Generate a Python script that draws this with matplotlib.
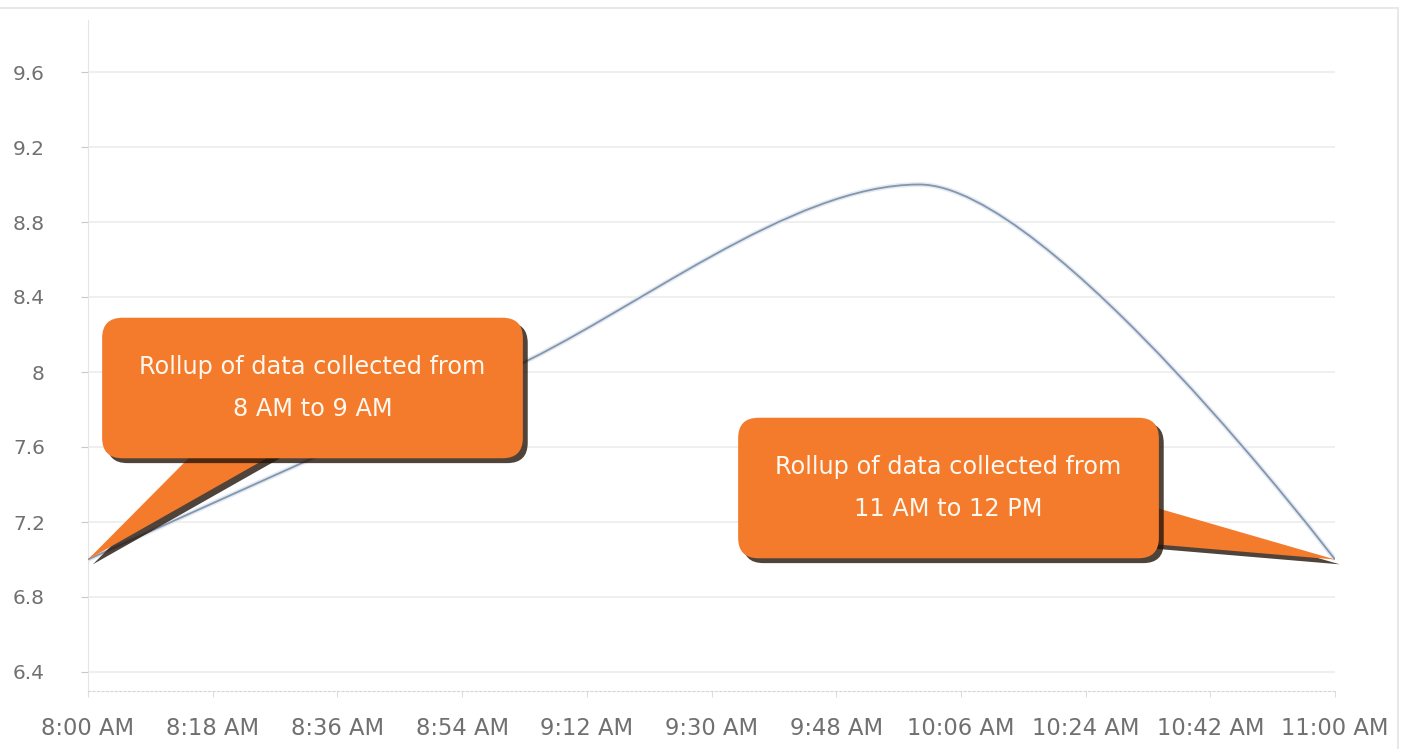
import matplotlib.pyplot as plt
import matplotlib.patheffects as pe
from matplotlib.path import Path
from matplotlib.patches import PathPatch, Rectangle

# data: minutes after 8:00 AM, hourly rollup values
minutes = [0, 60, 120, 180]
values = [7.0, 8.0, 9.0, 7.0]

tick_minutes = [0, 18, 36, 54, 72, 90, 108, 126, 144, 162, 180]
tick_labels = ["8:00 AM", "8:18 AM", "8:36 AM", "8:54 AM", "9:12 AM", "9:30 AM",
               "9:48 AM", "10:06 AM", "10:24 AM", "10:42 AM", "11:00 AM"]
y_ticks = [6.4, 6.8, 7.2, 7.6, 8.0, 8.4, 8.8, 9.2, 9.6]
y_labels = ["6.4", "6.8", "7.2", "7.6", "8", "8.4", "8.8", "9.2", "9.6"]

callout_1 = "Rollup of data collected from\n8 AM to 9 AM"
callout_2 = "Rollup of data collected from\n11 AM to 12 PM"

ORANGE = "#f47b2c"
LINE = "#8496ad"
TEXT = "#707070"


def spline_path(xs, ys, smoothing=2.2):
    # highcharts-like spline: bezier control points per point
    n = len(xs)
    left = [(xs[i], ys[i]) for i in range(n)]
    right = [(xs[i], ys[i]) for i in range(n)]
    denom = smoothing + 1
    for i in range(1, n - 1):
        px, py = xs[i], ys[i]
        lx, ly = xs[i - 1], ys[i - 1]
        nx, ny = xs[i + 1], ys[i + 1]
        lcx = (smoothing * px + lx) / denom
        lcy = (smoothing * py + ly) / denom
        rcx = (smoothing * px + nx) / denom
        rcy = (smoothing * py + ny) / denom
        corr = ((rcy - lcy) * (rcx - px)) / (rcx - lcx) + py - rcy
        lcy += corr
        rcy += corr
        if lcy > ly and lcy > py:
            lcy = max(ly, py); rcy = 2 * py - lcy
        elif lcy < ly and lcy < py:
            lcy = min(ly, py); rcy = 2 * py - lcy
        if rcy > ny and rcy > py:
            rcy = max(ny, py); lcy = 2 * py - rcy
        elif rcy < ny and rcy < py:
            rcy = min(ny, py); lcy = 2 * py - rcy
        left[i] = (lcx, lcy)
        right[i] = (rcx, rcy)
    verts = [(xs[0], ys[0])]
    codes = [Path.MOVETO]
    for i in range(1, n):
        verts += [right[i - 1], left[i], (xs[i], ys[i])]
        codes += [Path.CURVE4] * 3
    return Path(verts, codes)


fig = plt.figure(figsize=(14.13, 7.49), dpi=100)
ax = fig.add_axes([88 / 1413, 1 - 690.75 / 749, (1335 - 88) / 1413, (690.75 - 19.5) / 749])

ax.add_patch(PathPatch(spline_path(minutes, values), fc="none", ec=LINE, lw=1.3,
                       path_effects=[pe.Stroke(linewidth=3.5, foreground="#e4eaf2"), pe.Normal()],
                       zorder=3))

ax.set_xlim(0, 180)
ax.set_ylim(6.3, 9.88)
ax.set_xticks(tick_minutes)
ax.set_xticklabels(tick_labels)
ax.set_yticks(y_ticks)
ax.set_yticklabels(y_labels)
ax.tick_params(axis="y", length=5, color="#c8c8c8", pad=26, labelsize=14.5, labelcolor=TEXT)
ax.tick_params(axis="x", length=4, color="#dddddd", pad=15, labelsize=16.3, labelcolor=TEXT)
ax.grid(axis="y", color="#ececec", lw=1.2)
ax.set_axisbelow(True)
for s in ["top", "right"]:
    ax.spines[s].set_visible(False)
ax.spines["left"].set_color("#e4e4e4")
ax.spines["bottom"].set_color("#d6d6d6")
ax.spines["bottom"].set_linestyle((0, (2, 2)))

shadow = [pe.withSimplePatchShadow(offset=(3.5, -3.5), shadow_rgbFace="#241409", alpha=0.8)]

for txt, (ix, pos, tw, pad) in [(callout_1, (0, (312.5 / 1413, 1 - 388 / 749), 2.8, 1.55)),
                                (callout_2, (3, (948.5 / 1413, 1 - 488 / 749), 2.8, 1.55))]:
    ann = ax.annotate(txt, xy=(minutes[ix], values[ix]), xycoords="data",
                      xytext=pos, textcoords="figure fraction",
                      ha="center", va="center", fontsize=17.3, color="#fff8f0",
                      linespacing=1.95, zorder=5,
                      bbox=dict(boxstyle="round,pad=%s,rounding_size=0.85" % pad, fc=ORANGE, ec="none"),
                      arrowprops=dict(arrowstyle="wedge,tail_width=%s,shrink_factor=0.5" % tw,
                                      fc=ORANGE, ec="none", mutation_scale=20,
                                      patchA=None, shrinkA=0, shrinkB=0))
    ann.get_bbox_patch().set_path_effects(shadow)
    ann.arrow_patch.set_path_effects(shadow)

# thin frame of the original screenshot
fig.add_artist(Rectangle((-0.01, -0.01), 1398 / 1413 + 0.01, 1 - 8 / 749 + 0.01,
                         transform=fig.transFigure, fill=False, ec="#e8e8e8", lw=1.5))

fig.savefig("out.png", dpi=100)
